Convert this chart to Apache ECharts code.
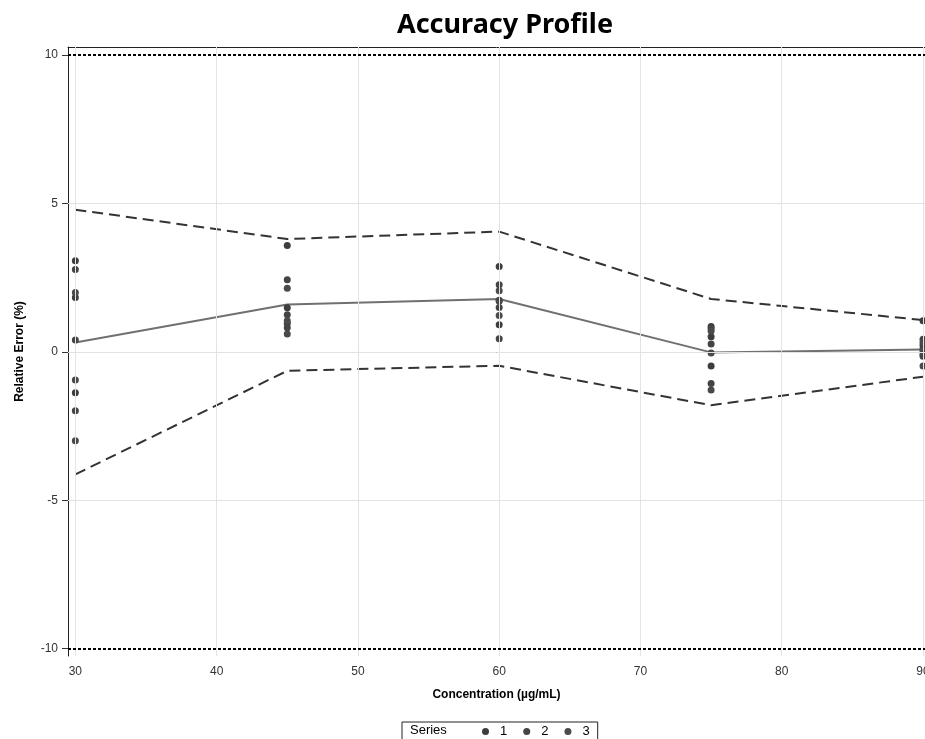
<!DOCTYPE html>
<html>
<head>
<meta charset="utf-8">
<script src="https://cdn.jsdelivr.net/npm/echarts@6/dist/echarts.min.js"></script>
<style>html,body{margin:0;padding:0;background:#fff;overflow:hidden}#c{width:925px;height:739px}</style>
</head>
<body>
<div id="c"></div>
<script>
// Concentration levels
var concentrations = [30, 45, 60, 75, 90];
// Profile lines (relative error %)
var upperLimit = [4.79, 3.80, 4.05, 1.78, 1.07];
var meanError  = [0.31, 1.59, 1.78, -0.02, 0.08];
var lowerLimit = [-4.13, -0.64, -0.47, -1.80, -0.84];
// Acceptance limits
var acceptUpper = 10;
var acceptLower = -10;
// Individual relative errors per series (one list per concentration, 3 reps each)
var series1 = [[3.07, 1.83, -1.38], [3.58, 1.48, 0.95], [2.87, 1.74, 0.91], [0.85, 0.51, -0.48], [1.05, 0.22, -0.08]];
var series2 = [[2.77, 0.40, -1.99], [2.43, 1.25, 0.81], [2.26, 1.49, 0.44], [0.78, 0.26, -1.07], [0.42, 0.10, -0.15]];
var series3 = [[2.00, -0.95, -3.00], [2.14, 1.05, 0.60], [2.06, 1.22, 1.70], [0.70, -0.04, -1.29], [0.32, 0.02, -0.48]];
var seriesNames = ['1', '2', '3'];
var xTicks = [30, 40, 50, 60, 70, 80, 90];
var yTicks = [-10, -5, 0, 5, 10];

function pts(reps) {
  var out = [];
  for (var i = 0; i < concentrations.length; i++) {
    for (var j = 0; j < reps[i].length; j++) out.push([concentrations[i], reps[i][j]]);
  }
  return out;
}
function pairs(vals) { return concentrations.map(function (c, i) { return [c, vals[i]]; }); }

var FONT = '"Liberation Sans", Arial, sans-serif';
var chart = echarts.init(document.getElementById('c'), null, {renderer: 'canvas', width: 925, height: 739});
var gridColor = '#e3e3e3';
var XMIN = 29.48, XMAX = 90.14;

var option = {
  animation: false,
  backgroundColor: '#fff',
  title: {
    text: 'Accuracy Profile', left: 500, top: 7, textAlign: 'center',
    textStyle: {fontFamily: '"Noto Sans", sans-serif', fontWeight: 'bold', fontSize: 27, color: '#000'}
  },
  grid: {left: 68, right: 0, top: 47, bottom: 83, show: false, containLabel: false, outerBoundsMode: 'none'},
  xAxis: [{
    type: 'value', min: XMIN, max: XMAX,
    name: 'Concentration (µg/mL)', nameLocation: 'middle', nameGap: 33,
    nameTextStyle: {fontFamily: FONT, fontWeight: 'bold', fontSize: 12, color: '#000'},
    axisLine: {show: true, lineStyle: {color: '#222'}},
    axisTick: {show: true, customValues: xTicks, length: 6, lineStyle: {color: '#333'}},
    axisLabel: {customValues: xTicks, margin: 10, fontFamily: FONT, fontSize: 12, color: '#333'},
    splitLine: {show: false}
  }, {
    type: 'value', position: 'top', min: XMIN, max: XMAX,
    axisLine: {show: true, onZero: false, lineStyle: {color: '#222'}},
    axisTick: {show: false}, axisLabel: {show: false}, splitLine: {show: false}
  }],
  yAxis: {
    type: 'value', min: -10.25, max: 10.27,
    name: 'Relative Error (%)', nameLocation: 'middle', nameGap: 42, nameRotate: 90,
    nameTextStyle: {fontFamily: FONT, fontWeight: 'bold', fontSize: 12, color: '#000'},
    axisLine: {show: true, lineStyle: {color: '#222'}},
    axisTick: {show: true, customValues: yTicks, length: 6, lineStyle: {color: '#333'}},
    axisLabel: {customValues: yTicks, margin: 10, fontFamily: FONT, fontSize: 12, color: '#333'},
    splitLine: {show: false}
  },
  legend: {
    data: seriesNames, left: 402, top: 722, orient: 'horizontal',
    icon: 'circle', itemWidth: 7, itemHeight: 7, itemGap: 16,
    padding: [3, 8, 6, 80], borderColor: '#222', borderWidth: 1,
    textStyle: {fontFamily: FONT, fontSize: 13, color: '#000', padding: [0, 0, 0, 6]}
  },
  graphic: [{
    type: 'text', left: 410, top: 724,
    style: {text: 'Series', font: '13px ' + FONT, fill: '#000'}
  }],
  series: [
    {
      type: 'line', name: 'grid', silent: true, data: [], symbol: 'none', z: 0,
      markLine: {
        silent: true, symbol: 'none', label: {show: false},
        lineStyle: {color: gridColor, width: 1, type: 'solid'},
        data: xTicks.map(function (v) { return {xAxis: v}; }).concat(
              yTicks.filter(function (v) { return Math.abs(v) < 10; }).map(function (v) { return {yAxis: v}; }))
      }
    },
    {
      type: 'line', name: 'accept', silent: true, data: [], symbol: 'none', z: 3,
      markLine: {
        silent: true, symbol: 'none', label: {show: false},
        lineStyle: {color: '#000', width: 2, type: [3, 2]},
        data: [{yAxis: acceptUpper}, {yAxis: acceptLower}]
      }
    },
    {type: 'line', name: 'upper', data: pairs(upperLimit), symbol: 'none', z: 3,
     lineStyle: {color: '#333', width: 2, type: [11, 6]}},
    {type: 'line', name: 'lower', data: pairs(lowerLimit), symbol: 'none', z: 3,
     lineStyle: {color: '#333', width: 2, type: [11, 6]}},
    {type: 'line', name: 'mean', data: pairs(meanError), symbol: 'none', z: 3,
     lineStyle: {color: '#707070', width: 2}},
    {type: 'scatter', name: '1', data: pts(series1), symbol: 'circle', symbolSize: 7, z: 4,
     itemStyle: {color: '#3d3d3d', opacity: 1}},
    {type: 'scatter', name: '2', data: pts(series2), symbol: 'circle', symbolSize: 7, z: 4,
     itemStyle: {color: '#444444', opacity: 1}},
    {type: 'scatter', name: '3', data: pts(series3), symbol: 'circle', symbolSize: 7, z: 4,
     itemStyle: {color: '#4a4a4a', opacity: 1}}
  ]
};
chart.setOption(option);
</script>
</body>
</html>
